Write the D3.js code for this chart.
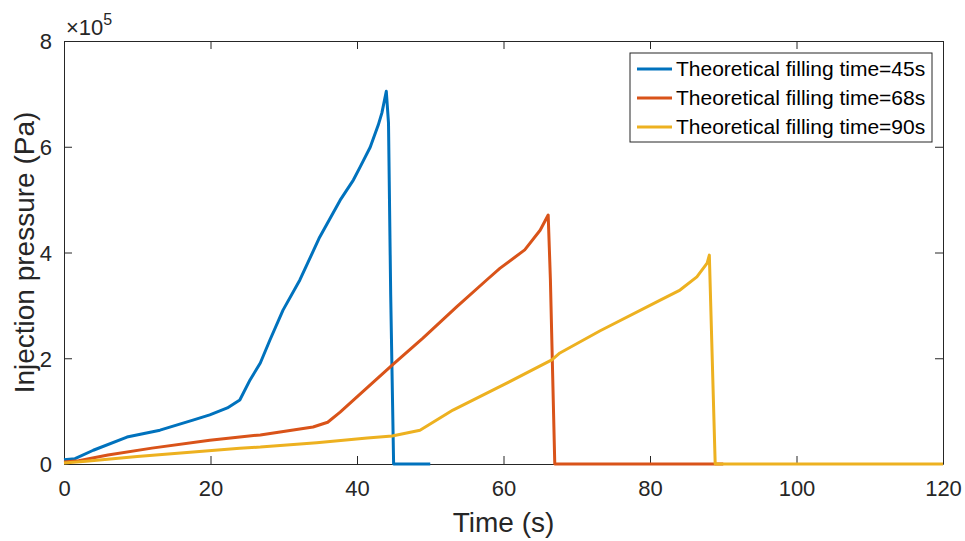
<!DOCTYPE html>
<html>
<head>
<meta charset="utf-8">
<script src="https://cdn.jsdelivr.net/npm/d3@7/dist/d3.min.js"></script>
<style>
  html, body { margin: 0; padding: 0; background: #fff; }
  svg { display: block; font-family: "Liberation Sans", Arial, Helvetica, sans-serif; }
</style>
</head>
<body>
<svg id="chart" width="965" height="541"></svg>
<script>
// Injection pressure (×10^5 Pa) against time (s) for three theoretical filling times
const seriesNames = [
  "Theoretical filling time=45s",
  "Theoretical filling time=68s",
  "Theoretical filling time=90s"
];
const seriesColors = ["#0072BD", "#D95319", "#EDB120"];

const time45 = [0, 1.5, 4.0, 8.6, 13.1, 17.6, 19.9, 22.3, 24.0, 25.4, 26.8, 28.1, 29.9, 32.2, 34.9, 37.7, 39.5, 40.4, 41.8, 42.9, 43.4, 44.0, 44.3, 44.6, 45.0, 50];
const press45 = [0.08, 0.10, 0.26, 0.51, 0.64, 0.83, 0.93, 1.06, 1.21, 1.59, 1.91, 2.34, 2.91, 3.48, 4.29, 4.99, 5.37, 5.61, 5.99, 6.41, 6.64, 7.05, 6.45, 3.2, 0, 0];

const time68 = [0, 2.0, 6.0, 12.0, 19.9, 24.0, 26.8, 34.0, 36.0, 37.7, 40.0, 44.8, 49.0, 53.6, 57.7, 59.5, 62.9, 65.0, 66.1, 66.4, 67.0, 90];
const press68 = [0.04, 0.06, 0.17, 0.30, 0.45, 0.51, 0.55, 0.70, 0.79, 0.98, 1.27, 1.87, 2.38, 2.97, 3.48, 3.70, 4.05, 4.42, 4.71, 3.5, 0, 0];

const time90 = [0, 3.0, 10.0, 24.0, 26.8, 34.5, 41.4, 44.8, 48.6, 53.1, 59.9, 66.6, 67.7, 73.2, 81.4, 84.1, 86.4, 87.8, 88.1, 88.9, 120];
const press90 = [0.02, 0.05, 0.14, 0.30, 0.32, 0.40, 0.49, 0.53, 0.64, 1.02, 1.49, 1.97, 2.10, 2.52, 3.10, 3.29, 3.54, 3.80, 3.95, 0, 0];

const xTicks = [0, 20, 40, 60, 80, 100, 120];
const yTicks = [0, 2, 4, 6, 8];

const svg = d3.select("#chart");
const margin = { left: 64, right: 22, top: 41, bottom: 77 };
const W = 965, H = 541;
const x = d3.scaleLinear().domain([0, 120]).range([margin.left, W - margin.right]);
const y = d3.scaleLinear().domain([0, 8]).range([H - margin.bottom, margin.top]);

const axisColor = "#262626";
const tickLen = 8;

// Axes with inward ticks, plus mirrored ticks on the top and right edges
const gx = svg.append("g").attr("transform", `translate(0,${y(0)})`)
  .call(d3.axisBottom(x).tickValues(xTicks).tickSizeInner(-tickLen).tickSizeOuter(0).tickPadding(16));
const gy = svg.append("g").attr("transform", `translate(${x(0)},0)`)
  .call(d3.axisLeft(y).tickValues(yTicks).tickSizeInner(-tickLen).tickSizeOuter(0).tickPadding(12));
const gxt = svg.append("g").attr("transform", `translate(0,${y(8)})`)
  .call(d3.axisTop(x).tickValues(xTicks).tickSizeInner(-tickLen).tickSizeOuter(0).tickFormat(""));
const gyr = svg.append("g").attr("transform", `translate(${x(120)},0)`)
  .call(d3.axisRight(y).tickValues(yTicks).tickSizeInner(-tickLen).tickSizeOuter(0).tickFormat(""));

[gx, gy, gxt, gyr].forEach(g => {
  g.select(".domain").attr("stroke", axisColor).attr("stroke-width", 1);
  g.selectAll(".tick line").attr("stroke", axisColor).attr("stroke-width", 1);
  g.selectAll(".tick text").attr("fill", axisColor).attr("font-size", 22)
    .attr("font-family", "'Liberation Sans', Arial, sans-serif");
});
gy.selectAll(".tick text").attr("dy", "0.36em");

// Series lines
const series = [
  { t: time45, p: press45 },
  { t: time68, p: press68 },
  { t: time90, p: press90 }
];
const line = d3.line().x(d => x(d[0])).y(d => y(d[1]));
series.forEach((s, i) => {
  const pts = s.t.map((t, k) => [t, s.p[k]]);
  svg.append("path")
    .datum(pts)
    .attr("d", line)
    .attr("fill", "none")
    .attr("stroke", seriesColors[i])
    .attr("stroke-width", 3)
    .attr("stroke-linejoin", "round");
});

// Exponent label
const expo = svg.append("text").attr("x", 66).attr("y", 35)
  .attr("fill", axisColor).attr("font-size", 22);
expo.append("tspan").text("\u00D710");
expo.append("tspan").attr("font-size", 16).attr("dy", -10).text("5");

// Axis titles
svg.append("text")
  .attr("x", (x(0) + x(120)) / 2).attr("y", 532)
  .attr("text-anchor", "middle").attr("fill", axisColor).attr("font-size", 28)
  .text("Time (s)");
svg.append("text")
  .attr("transform", `translate(34,${(y(0) + y(8)) / 2}) rotate(-90)`)
  .attr("text-anchor", "middle").attr("fill", axisColor).attr("font-size", 28)
  .text("Injection pressure (Pa)");

// Legend
const lg = svg.append("g").attr("transform", "translate(630,53)");
lg.append("rect").attr("width", 302).attr("height", 89)
  .attr("fill", "#fff").attr("stroke", axisColor).attr("stroke-width", 1);
seriesNames.forEach((name, i) => {
  const cy = 16 + i * 29;
  lg.append("line").attr("x1", 7).attr("x2", 42).attr("y1", cy).attr("y2", cy)
    .attr("stroke", seriesColors[i]).attr("stroke-width", 3);
  lg.append("text").attr("x", 46).attr("y", cy).attr("dy", "0.35em")
    .attr("fill", "#000").attr("font-size", 21).text(name);
});
</script>
</body>
</html>
